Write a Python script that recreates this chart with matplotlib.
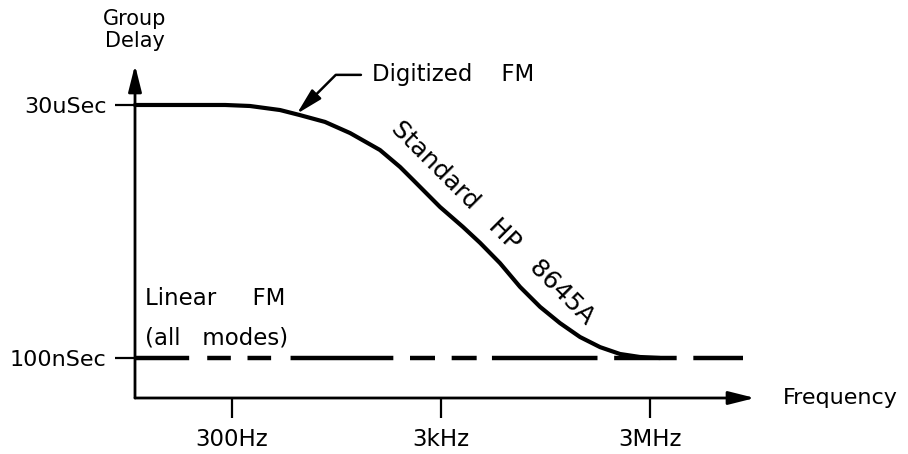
import matplotlib.pyplot as plt

# schematic positions: x in tick units (300Hz=1, 3kHz=2, 3MHz=3),
# y normalised so 100nSec=0 and 30uSec=1
freq_ticks = [1, 2, 3]
freq_labels = ['300Hz', '3kHz', '3MHz']
delay_ticks = [0, 1]
delay_labels = ['100nSec', '30uSec']

# Standard HP 8645A group delay curve
curve_x = [0.536, 0.967, 1.086, 1.230, 1.325, 1.445, 1.565, 1.708, 1.804, 1.866, 1.995,
           2.105, 2.187, 2.282, 2.378, 2.474, 2.569, 2.665, 2.761, 2.856, 2.952, 3.048]
curve_y = [1.0, 1.0, 0.996, 0.980, 0.960, 0.933, 0.889, 0.822, 0.755, 0.704, 0.597,
           0.518, 0.455, 0.375, 0.281, 0.202, 0.138, 0.083, 0.043, 0.016, 0.004, 0.0]

# Linear FM (all modes): flat at 100nSec
linear_x = [0.536, 3.445]
linear_y = [0, 0]

plt.rcParams['font.family'] = ['DejaVu Sans']
plt.rcParams['lines.scale_dashes'] = False

fig = plt.figure(figsize=(9.08, 4.54), dpi=100)
ax = fig.add_axes([135 / 908, 1 - 398 / 454, 620 / 908, 333 / 454])
ax.set_xlim(0.536, 3.502)
ax.set_ylim(-0.158, 1.158)

for s in ax.spines.values():
    s.set_visible(False)

# axes drawn as arrows
arrow = dict(arrowstyle='-|>,head_length=1.6,head_width=0.4', color='black',
             lw=2.0, shrinkA=0, shrinkB=0, mutation_scale=10)
ax.annotate('', xy=(1, 0), xytext=(0, 0), xycoords='axes fraction',
            textcoords='axes fraction', arrowprops=arrow)
ax.annotate('', xy=(0, 1), xytext=(0, 0), xycoords='axes fraction',
            textcoords='axes fraction', arrowprops=arrow)

ax.set_xticks(freq_ticks)
ax.set_xticklabels(freq_labels)
ax.set_yticks(delay_ticks)
ax.set_yticklabels(delay_labels)
ax.tick_params(axis='x', direction='out', length=14.4, width=1.6, pad=7, labelsize=16.5)
ax.tick_params(axis='y', direction='out', length=14.4, width=1.6, pad=6, labelsize=16)

ax.plot(curve_x, curve_y, color='black', lw=3.0, solid_joinstyle='round',
        solid_capstyle='round', clip_on=False)
# irregular hand-drawn dash pattern (points)
dash_seq = (39, 13, 17, 12, 17, 14, 74, 12, 18, 12, 18, 11, 76, 12, 45, 12, 40, 20)
ax.plot(linear_x, linear_y, color='black', lw=3.2, linestyle=(0, dash_seq), clip_on=False)

ax.text(2.249, 0.534, 'Standard   HP   8645A', rotation=-45, rotation_mode='anchor',
        ha='center', va='center', fontsize=18)
ax.text(0.584, 0.209, 'Linear     FM', ha='left', va='baseline', fontsize=16.5)
ax.text(0.584, 0.055, '(all   modes)', ha='left', va='baseline', fontsize=16.5)
ax.text(0.536, 1.296, 'Group\nDelay', ha='center', va='center', fontsize=15, linespacing=1.1)
ax.text(3.636, -0.158, 'Frequency', ha='left', va='center', fontsize=16)

ax.annotate('Digitized    FM', xy=(1.31, 0.965), xytext=(1.67, 1.119),
            ha='left', va='center', fontsize=16.5,
            arrowprops=dict(arrowstyle='-|>,head_length=1.6,head_width=0.4',
                            connectionstyle='angle,angleA=0,angleB=45,rad=0',
                            color='black', lw=1.8, shrinkA=6, shrinkB=0,
                            relpos=(0, 0.5), mutation_scale=10))

fig.savefig('out.png', dpi=100)
